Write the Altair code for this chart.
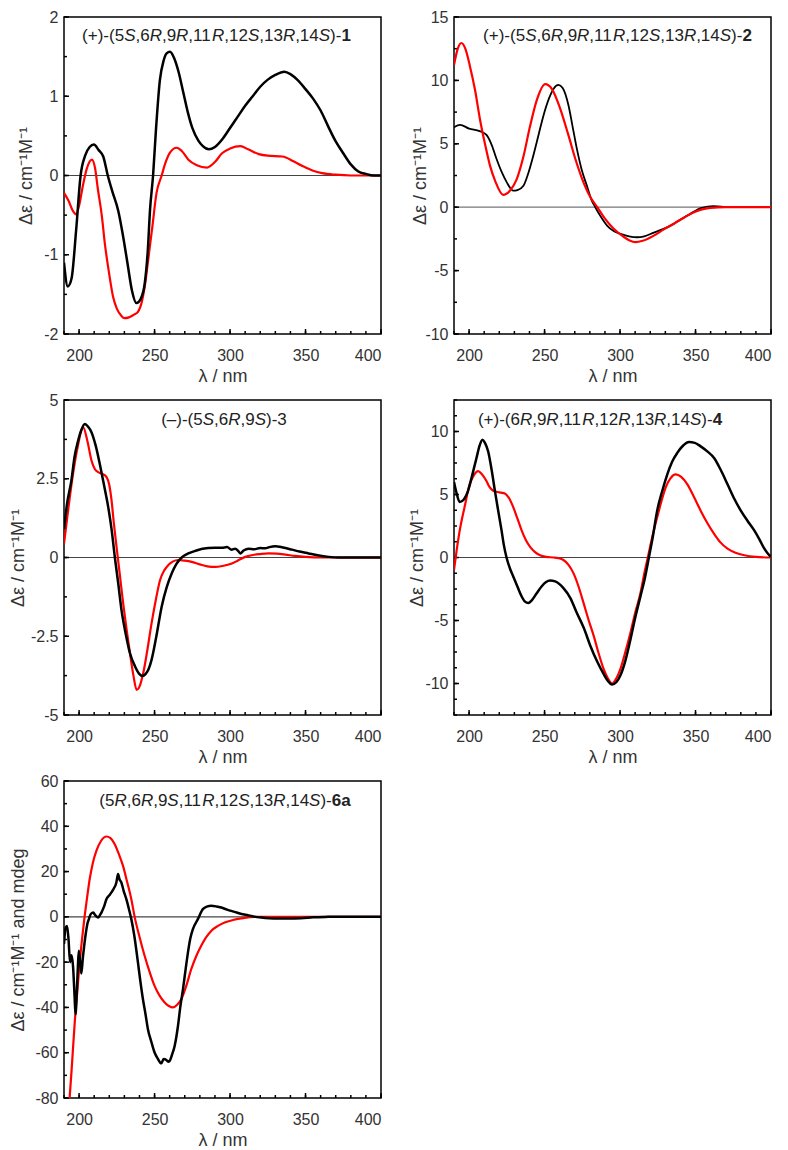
import altair as alt
import pandas as pd

FONT = "Liberation Sans"
BLACK = "#000000"
RED = "#ff0000"
TXT = "#222222"

# ---------------- data ----------------
X_MAJOR = [200, 250, 300, 350, 400]
X_MINOR = [190, 200, 210, 220, 230, 240, 250, 260, 270, 280, 290, 300, 310, 320, 330, 340, 350, 360, 370, 380, 390, 400]

# Panel 1
P1_BLACK_X = [190, 192.5, 195, 198, 201, 204, 207, 209.8, 213, 216, 219, 222, 226, 229, 232, 235, 238, 241, 243.5, 245.5, 247, 249, 251, 253.5, 256, 258, 260.2, 263, 266, 269, 272, 275, 279, 282, 286, 290, 295, 300, 305, 310, 315, 320, 325, 330, 336, 340, 345, 350, 355, 360, 365, 370, 375, 380, 385, 390, 395, 400]
P1_BLACK_Y = [-1.10, -1.40, -1.30, -0.70, 0.0, 0.25, 0.36, 0.39, 0.32, 0.24, 0.0, -0.20, -0.45, -0.75, -1.10, -1.45, -1.61, -1.55, -1.36, -0.95, -0.43, 0.0, 0.60, 1.20, 1.45, 1.54, 1.56, 1.48, 1.30, 1.05, 0.80, 0.60, 0.44, 0.37, 0.33, 0.36, 0.46, 0.60, 0.74, 0.88, 1.00, 1.12, 1.21, 1.27, 1.31, 1.28, 1.20, 1.09, 0.97, 0.82, 0.62, 0.43, 0.28, 0.14, 0.05, 0.02, 0.0, 0.0]
P1_RED_X = [190, 193, 196, 198, 200, 202.5, 205, 208.5, 210.5, 212.5, 215, 217, 220, 222.5, 225, 228, 230, 233, 236, 239, 241.5, 243.5, 245.8, 248.5, 251.3, 254.7, 257, 260.2, 264.7, 268, 272.4, 278, 284.7, 290, 294.7, 300, 306.9, 312, 319, 325, 334.7, 342, 348, 355, 361, 370, 380, 400]
P1_RED_Y = [-0.22, -0.32, -0.45, -0.49, -0.38, -0.13, 0.08, 0.20, 0.10, -0.18, -0.50, -0.85, -1.25, -1.53, -1.68, -1.77, -1.80, -1.79, -1.76, -1.72, -1.60, -1.40, -1.06, -0.65, -0.22, 0.0, 0.15, 0.29, 0.35, 0.31, 0.20, 0.13, 0.10, 0.17, 0.28, 0.34, 0.37, 0.33, 0.27, 0.25, 0.24, 0.18, 0.12, 0.06, 0.03, 0.01, 0.0, 0.0]

# Panel 2
P2_BLACK_X = [190, 194, 200, 207, 211.5, 215, 218.2, 221.5, 224.8, 229.3, 232, 236, 239, 242.6, 246, 249.2, 253, 256, 259.2, 262, 265.9, 268.5, 271.4, 274.5, 278, 281, 283.6, 287, 291.4, 296, 300.3, 306, 311.3, 316, 322.4, 328, 333.5, 339, 344.6, 349, 353.5, 358, 362, 370, 380, 400]
P2_BLACK_Y = [6.3, 6.5, 6.2, 6.0, 5.7, 4.9, 3.8, 2.8, 2.0, 1.3, 1.35, 1.7, 2.6, 4.1, 5.7, 7.2, 8.6, 9.35, 9.65, 9.4, 8.0, 6.4, 4.6, 3.0, 1.7, 0.6, 0.0, -0.7, -1.45, -1.9, -2.1, -2.3, -2.37, -2.3, -2.0, -1.75, -1.45, -1.05, -0.66, -0.35, -0.08, 0.05, 0.08, 0.03, 0.0, 0.0]
P2_RED_X = [190, 192.5, 194.9, 197.5, 200.4, 204, 207.1, 210.5, 213.8, 217.5, 222.6, 227, 231.5, 236, 240.4, 245, 250.4, 255, 260.4, 265.5, 270.4, 275, 280.3, 284.9, 290, 295.8, 302, 306, 310.2, 315, 322.4, 329, 335.7, 342, 349, 355, 360, 370, 400]
P2_RED_Y = [11.2, 12.5, 12.95, 12.5, 11.2, 9.2, 7.0, 5.0, 3.3, 2.0, 0.97, 1.3, 2.2, 4.0, 6.4, 8.5, 9.7, 9.3, 7.76, 5.8, 3.8, 2.2, 0.8, 0.0, -0.9, -1.7, -2.3, -2.6, -2.76, -2.65, -2.24, -1.75, -1.3, -0.85, -0.4, -0.15, -0.05, 0.0, 0.0]

# Panel 3
P3_BLACK_X = [190, 192, 194.9, 197, 199.3, 201.5, 203.8, 206, 208.2, 211, 213.7, 216.5, 219.3, 221.5, 223.7, 226, 228.1, 231, 233.7, 237, 240, 241.9, 244, 246, 248, 251, 254.7, 258, 261.4, 264.5, 268, 272, 276.9, 281, 285.7, 290, 294.6, 298, 301, 303.4, 305.5, 306.8, 309, 312.3, 316, 320, 323.4, 326, 330, 335, 341, 346, 352, 358, 365.4, 372, 400]
P3_BLACK_Y = [0.9, 1.7, 2.45, 3.2, 3.7, 4.05, 4.24, 4.15, 3.98, 3.55, 2.97, 2.3, 1.6, 0.9, 0.0, -0.85, -1.67, -2.45, -3.04, -3.45, -3.70, -3.76, -3.70, -3.55, -3.25, -2.55, -1.56, -0.95, -0.5, -0.2, 0.0, 0.12, 0.21, 0.27, 0.30, 0.31, 0.31, 0.33, 0.25, 0.28, 0.20, 0.13, 0.22, 0.28, 0.26, 0.30, 0.29, 0.33, 0.36, 0.32, 0.25, 0.19, 0.13, 0.07, 0.02, 0.0, 0.0]
P3_RED_X = [190, 193, 196, 199, 202.7, 205.5, 208.2, 210.5, 212.6, 215.5, 218.2, 220, 221.5, 223, 224.8, 227, 229.2, 231.5, 233.7, 236, 238.1, 240, 242.5, 245, 248, 251, 253.6, 256.5, 259.1, 262, 265.8, 270, 274.6, 280, 285, 290.1, 295, 301.2, 305, 310, 315, 320, 325.6, 331, 336.7, 343, 350, 360, 400]
P3_RED_Y = [0.44, 1.6, 2.66, 3.5, 4.13, 3.7, 3.08, 2.80, 2.71, 2.65, 2.55, 2.3, 1.81, 1.1, 0.34, -0.55, -1.46, -2.3, -3.04, -3.75, -4.2, -4.1, -3.67, -3.0, -2.09, -1.3, -0.72, -0.4, -0.24, -0.13, -0.08, -0.10, -0.14, -0.22, -0.28, -0.30, -0.27, -0.19, -0.1, 0.02, 0.08, 0.11, 0.13, 0.12, 0.09, 0.05, 0.02, 0.0, 0.0]

# Panel 4
P4_BLACK_X = [190, 191.6, 193.8, 196.5, 199.3, 202, 204.9, 207, 208.9, 210.5, 212.6, 215, 217.1, 219.3, 221.5, 223, 224.8, 227, 229.3, 232, 234.8, 237, 239.2, 241.5, 244.8, 248, 251, 253.7, 257, 262.5, 267, 271.4, 276, 280.3, 285, 289.1, 292, 294.7, 297.5, 300.2, 303.5, 306.9, 310, 313.5, 316.5, 319.1, 321.5, 324.6, 328, 331.3, 334.5, 337.9, 341.5, 345.7, 349.5, 353.4, 358, 362.3, 366.5, 371.2, 375.5, 380, 384.5, 388.9, 392.5, 395.6, 398, 400]
P4_BLACK_Y = [6.0, 5.16, 4.4, 4.6, 5.29, 6.5, 7.9, 8.9, 9.35, 9.1, 8.43, 6.9, 5.29, 3.7, 2.15, 1.0, 0.0, -0.85, -1.52, -2.3, -3.09, -3.5, -3.61, -3.4, -2.83, -2.3, -1.95, -1.83, -1.9, -2.43, -3.2, -4.4, -5.6, -7.0, -8.3, -9.24, -9.8, -10.08, -9.9, -9.37, -8.2, -6.5, -4.8, -3.09, -1.6, 0.0, 1.5, 3.72, 5.3, 6.6, 7.6, 8.3, 8.85, 9.16, 9.1, 8.82, 8.4, 7.9, 7.0, 5.81, 4.7, 3.72, 2.9, 2.15, 1.4, 0.7, 0.3, 0.05]
P4_RED_X = [190, 191.8, 193.8, 197, 200.4, 203, 206, 208.5, 211.5, 213.5, 216, 219, 221, 223.7, 226.5, 229.3, 232, 234.8, 237.5, 240.4, 243.5, 247, 251, 255.9, 259, 262.5, 266, 269.2, 272.5, 275.8, 279, 282.5, 285.8, 289.1, 292, 294.7, 297.5, 300.2, 303.5, 306.9, 310, 313.5, 316, 318.4, 321.5, 324.6, 327.5, 330.2, 333.5, 336.8, 340.5, 344.6, 349, 353.4, 358, 362.3, 366.5, 371.2, 376.5, 382.3, 390, 400]
P4_RED_Y = [-1.0, 0.6, 2.15, 4.0, 5.81, 6.5, 6.86, 6.6, 6.07, 5.6, 5.29, 5.2, 5.15, 5.08, 4.7, 3.98, 3.1, 2.15, 1.4, 0.84, 0.45, 0.18, 0.05, 0.0, -0.05, -0.2, -0.6, -1.26, -2.3, -3.6, -4.9, -6.2, -7.6, -8.85, -9.6, -10.0, -9.6, -8.85, -7.5, -5.97, -4.4, -2.83, -1.3, 0.0, 1.7, 3.19, 4.5, 5.55, 6.3, 6.6, 6.4, 5.81, 4.8, 3.72, 2.7, 1.88, 1.2, 0.7, 0.38, 0.18, 0.05, 0.0]

# Panel 5
P5_BLACK_X = [190, 191, 192, 193, 194, 195, 196, 197, 197.6, 198.5, 199.2, 199.8, 200.7, 201.5, 202.5, 203.5, 204.5, 205.5, 206.5, 207.5, 209.3, 211, 212.6, 214, 214.8, 216.5, 218.1, 220, 221.4, 223, 224.7, 225.8, 226.8, 228, 229.5, 231.3, 233, 234.6, 236.5, 239, 240.5, 242.3, 244, 245.6, 248, 250, 252, 254.5, 256, 257.8, 259, 260, 261.5, 263.3, 265.5, 267, 268.8, 270.5, 272.1, 273.7, 275.4, 278.7, 282, 285, 287.5, 291, 294.2, 298, 303, 307, 311.8, 316, 320.6, 326, 331.6, 338, 347, 355, 365, 375, 385, 400]
P5_BLACK_Y = [-12, -5, -4, -10, -20, -17, -22, -35, -43, -33, -22, -15, -20, -25, -18, -12, -7, -3, -1, 1, 1.9, 0.5, -0.3, 1.0, 1.9, 4.5, 7.8, 9.5, 10.8, 12.5, 15.2, 18.9, 16.5, 15.2, 11.5, 7.8, 3.5, -1.0, -8, -20.2, -28, -36.4, -43, -49.6, -55.5, -59.9, -62.5, -64.7, -62.8, -63.2, -64.0, -63.6, -61, -57, -48.2, -40, -32, -23.5, -15.8, -9.5, -5.4, -1.0, 3.4, 4.6, 4.9, 4.6, 4.1, 3.2, 2.2, 1.4, 0.7, 0.1, -0.3, -0.6, -0.7, -0.7, -0.6, -0.2, 0.0, 0.1, 0.0, 0.0]
P5_RED_X = [193.5, 195, 197.1, 198.8, 200.4, 202, 203.7, 205.3, 207, 209, 211.5, 214.5, 218.1, 220.8, 223.6, 226.3, 229.1, 231.8, 234.6, 236.8, 240, 243.4, 246.7, 250, 253.3, 256.7, 259.5, 262.2, 265, 267.7, 271, 274.3, 277.5, 280.9, 284, 287.5, 292, 296.4, 302, 307.4, 316.2, 330, 400]
P5_RED_Y = [-82, -68, -46.7, -33, -20.2, -9.5, 0.4, 8.5, 16.6, 23.5, 29.2, 33.5, 35.5, 34.8, 32.1, 27.8, 22.5, 15.5, 7.8, 0.0, -8.8, -17.2, -24.3, -30.5, -34.8, -37.8, -39.4, -40.0, -38.8, -36.4, -30.5, -23.1, -17.5, -12.8, -9.2, -6.2, -4.0, -2.5, -1.4, -0.7, 0.0, 0.0, 0.0]

# titles
P1_TITLE = "(+)-(5S,6R,9R,11R,12S,13R,14S)-"
P1_LABEL = "1"
P2_TITLE = "(+)-(5S,6R,9R,11R,12S,13R,14S)-"
P2_LABEL = "2"
P3_TITLE = "(\u2013)-(5S,6R,9S)-"
P3_LABEL = "3"
P4_TITLE = "(+)-(6R,9R,11R,12R,13R,14S)-"
P4_LABEL = "4"
P5_TITLE = "(5R,6R,9S,11R,12S,13R,14S)-"
P5_LABEL = "6a"

Y_TITLE = "\u0394\u03b5 / cm\u207b\u00b9M\u207b\u00b9"
Y_TITLE5 = "\u0394\u03b5 / cm\u207b\u00b9M\u207b\u00b9 and mdeg"

# ---------------- helpers ----------------
CHAR_W = {'(': 0.333, ')': 0.333, '+': 0.584, '-': 0.333, ',': 0.278,
          'S': 0.667, 'R': 0.722, 'a': 0.556, '\u2013': 0.556}
TFS = 17
MAJ_T = 5
MIN_T = 3


def cw(ch):
    return CHAR_W.get(ch, 0.556)


def title_segments(text, label, bold):
    segs = []
    cur, cur_style = "", None
    for ch in text:
        st = "italic" if ch in "SR" else "normal"
        if st != cur_style and cur:
            segs.append((cur, cur_style))
            cur = ""
        cur_style = st
        cur += ch
    if cur:
        segs.append((cur, cur_style))
    segs.append((label, "bold" if bold else "normal"))
    return segs


def title_layers(text, label, bold, cx, cy):
    segs = title_segments(text, label, bold)
    total = sum(cw(c) for s, _ in segs for c in s) * TFS
    x = cx - total / 2
    layers = []
    for s, st in segs:
        kw = dict(align="left", baseline="middle", font=FONT, fontSize=TFS, color=TXT)
        if st == "italic":
            kw["fontStyle"] = "italic"
        if st == "bold":
            kw["fontWeight"] = "bold"
        layers.append(
            alt.Chart(pd.DataFrame({"t": [s]})).mark_text(**kw).encode(
                x=alt.value(x), y=alt.value(cy), text="t:N")
        )
        x += sum(cw(c) for c in s) * TFS
    return layers


LABEL_EXPR = "(datum.value < 0 ? '-' : '') + format(abs(datum.value), '')"


def tick_layers(xs, ys, ymaj, ymin, h):
    out = []
    for vals, ln in ((X_MINOR, MIN_T), (X_MAJOR, MAJ_T)):
        out.append(alt.Chart(pd.DataFrame({"t": vals})).mark_rule(
            color="black", strokeWidth=1.5).encode(
            x=alt.X("t:Q", scale=xs, axis=None),
            y=alt.value(h - ln), y2=alt.value(h)))
    for vals, ln in ((ymin, MIN_T), (ymaj, MAJ_T)):
        out.append(alt.Chart(pd.DataFrame({"t": vals})).mark_rule(
            color="black", strokeWidth=1.5).encode(
            y=alt.Y("t:Q", scale=ys, axis=None),
            x=alt.value(0), x2=alt.value(ln)))
    return out


def panel(bx, by, rx, ry, ydom, ymaj, ymin, ytitle, ytitle_x, title, label, bold,
          tcx, tcy, w, h, black_w=2.5, red_on_top=False, zero_color="#444444"):
    xs = alt.Scale(domain=[190, 400], nice=False, zero=False)
    ys = alt.Scale(domain=ydom, nice=False, zero=False)
    ax_x = alt.Axis(values=X_MAJOR, ticks=False, tickSize=0, domain=False, grid=False,
                    labelPadding=13, title="\u03bb / nm", titleX=w / 2, titleY=42,
                    titleBaseline="middle", orient="bottom")
    ax_y = alt.Axis(values=ymaj, ticks=False, tickSize=0, domain=False, grid=False,
                    labelPadding=6, labelExpr=LABEL_EXPR, title=ytitle,
                    titleX=ytitle_x, titleY=h / 2, titleBaseline="middle",
                    titleAngle=270, orient="left")
    zero = alt.Chart(pd.DataFrame({"v": [0]})).mark_rule(color=zero_color, strokeWidth=1.2).encode(
        y=alt.Y("v:Q", scale=ys, axis=None))
    black = alt.Chart(pd.DataFrame({"wl": bx, "v": by})).mark_line(
        color=BLACK, strokeWidth=black_w, interpolate="monotone", clip=True).encode(
        x=alt.X("wl:Q", scale=xs, axis=ax_x),
        y=alt.Y("v:Q", scale=ys, axis=ax_y))
    red = alt.Chart(pd.DataFrame({"wl": rx, "v": ry})).mark_line(
        color=RED, strokeWidth=2.2, interpolate="monotone", clip=True).encode(
        x=alt.X("wl:Q", scale=xs, axis=None),
        y=alt.Y("v:Q", scale=ys, axis=None))
    lines = [black, red] if red_on_top else [red, black]
    layers = ([zero] + tick_layers(xs, ys, ymaj, ymin, h) + lines
              + title_layers(title, label, bold, tcx, tcy))
    return alt.layer(*layers).resolve_axis(x="independent", y="independent").properties(
        width=w, height=h)


W = 317
p1 = panel(P1_BLACK_X, P1_BLACK_Y, P1_RED_X, P1_RED_Y, [-2, 2], [-2, -1, 0, 1, 2],
           [-2, -1.5, -1, -0.5, 0, 0.5, 1, 1.5, 2], Y_TITLE, -38,
           P1_TITLE, P1_LABEL, True, 152.5, 19, W, 317)
p2 = panel(P2_BLACK_X, P2_BLACK_Y, P2_RED_X, P2_RED_Y, [-10, 15], [-10, -5, 0, 5, 10, 15],
           [-10, -7.5, -5, -2.5, 0, 2.5, 5, 7.5, 10, 12.5, 15], Y_TITLE, -34,
           P2_TITLE, P2_LABEL, True, 163.5, 19, W, 317, black_w=1.8, red_on_top=True,
           zero_color="#777777")
p3 = panel(P3_BLACK_X, P3_BLACK_Y, P3_RED_X, P3_RED_Y, [-5, 5], [-5, -2.5, 0, 2.5, 5],
           [-5, -3.75, -2.5, -1.25, 0, 1.25, 2.5, 3.75, 5], Y_TITLE, -46,
           P3_TITLE, P3_LABEL, False, 160, 20, W, 315)
p4 = panel(P4_BLACK_X, P4_BLACK_Y, P4_RED_X, P4_RED_Y, [-12.5, 12.5], [-10, -5, 0, 5, 10],
           [-12.5, -11.25, -10, -8.75, -7.5, -6.25, -5, -3.75, -2.5, -1.25, 0, 1.25, 2.5,
            3.75, 5, 6.25, 7.5, 8.75, 10, 11.25, 12.5], Y_TITLE, -37,
           P4_TITLE, P4_LABEL, True, 146, 20, W, 315)
p5 = panel(P5_BLACK_X, P5_BLACK_Y, P5_RED_X, P5_RED_Y, [-80, 60], [-80, -60, -40, -20, 0, 20, 40, 60],
           [-80, -70, -60, -50, -40, -30, -20, -10, 0, 10, 20, 30, 40, 50, 60], Y_TITLE5, -46,
           P5_TITLE, P5_LABEL, True, 161, 20, W, 317)

chart = alt.concat(p1, p2, p3, p4, p5, columns=2, spacing={"row": 66, "column": 73},
                   bounds="flush").properties(
    padding={"left": 0, "top": 0, "right": 0, "bottom": 0}
).configure_view(stroke="black", strokeWidth=1.5).configure_axis(
    labelFont=FONT, labelFontSize=16, labelColor="#333333",
    titleFont=FONT, titleFontSize=18, titleColor="#333333", titleFontWeight="normal"
)

chart.save("out.html", embed_options={"renderer": "svg", "actions": False})
